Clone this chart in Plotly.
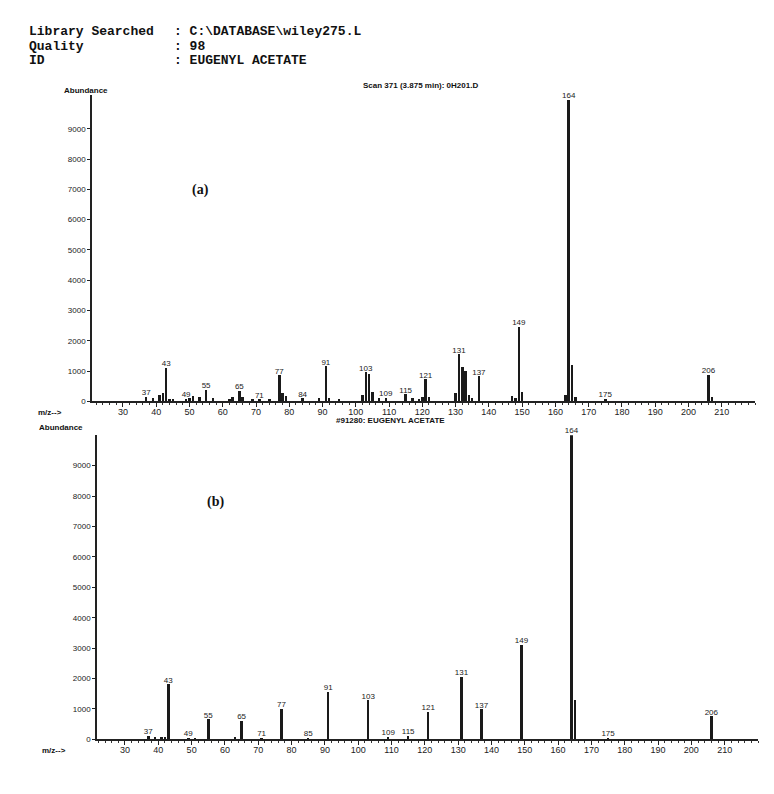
import plotly.graph_objects as go

# page body has an 8px margin; figure is sized/offset to compensate
OFF = 8
W, H = 774 - OFF, 794 - OFF

# ---------------- data ----------------
# Panel (a): sample spectrum (Scan 371)
mz_a = [37, 39, 41, 42, 43, 44, 45, 49, 50, 51, 53, 55, 57, 62, 63, 65, 66, 69, 71, 74,
        77, 78, 79, 84, 89, 91, 92, 95, 102, 103, 104, 105, 107, 109, 115, 117, 119, 120,
        121, 122, 130, 131, 132, 133, 134, 135, 137, 147, 148, 149, 150, 163, 164, 165,
        166, 175, 206, 207]
ab_a = [150, 110, 200, 250, 1100, 80, 60, 80, 100, 170, 120, 380, 100, 80, 150, 330, 150, 80, 60, 60,
        850, 250, 170, 90, 100, 1150, 100, 60, 200, 950, 900, 300, 100, 110, 220, 100, 80, 150,
        720, 150, 250, 1550, 1130, 1000, 200, 100, 820, 180, 100, 2450, 300, 200, 9950, 1200,
        150, 80, 860, 120]
lab_a = [37, 43, 49, 55, 65, 71, 77, 84, 91, 103, 109, 115, 121, 131, 137, 149, 164, 175, 206]

# Panel (b): library spectrum (#91280 EUGENYL ACETATE)
mz_b = [37, 39, 41, 42, 43, 49, 51, 55, 63, 65, 71, 77, 85, 91, 103, 109, 115, 121,
        131, 137, 149, 164, 165, 175, 206]
ab_b = [100, 60, 60, 80, 1800, 50, 50, 650, 60, 600, 40, 1000, 50, 1540, 1270, 80, 100, 900,
        2050, 980, 3100, 10000, 1300, 50, 750]
lab_b = [37, 43, 49, 55, 65, 71, 77, 85, 91, 103, 109, 115, 121, 131, 137, 149, 164, 175, 206]

y_ticks = [0, 1000, 2000, 3000, 4000, 5000, 6000, 7000, 8000, 9000]
x_ticks = list(range(30, 220, 10))

header_keys = ["Library Searched", "Quality", "ID"]
header_vals = ["C:\\DATABASE\\wiley275.L", "98", "EUGENYL ACETATE"]

# ---------------- figure ----------------
def px(x):
    return (x - OFF) / W

def py(y):
    return 1 - (y - OFF) / H

fig = go.Figure()

def add_panel(mz, ab, labs, xa, ya):
    fig.add_trace(go.Bar(x=mz, y=ab, width=0.75, marker=dict(color="#1a1a1a", line=dict(width=0)),
                         xaxis=xa, yaxis=ya, showlegend=False, hoverinfo="x+y"))
    d = dict(zip(mz, ab))
    fig.add_trace(go.Scatter(x=labs, y=[d[m] for m in labs], mode="text",
                             text=[str(m) for m in labs], textposition="top center",
                             textfont=dict(family="Liberation Sans", size=8, color="#222"),
                             cliponaxis=False,
                             xaxis=xa, yaxis=ya, showlegend=False, hoverinfo="skip"))

add_panel(mz_a, ab_a, lab_a, "x", "y")
add_panel(mz_b, ab_b, lab_b, "x2", "y2")

tickfont = dict(family="Liberation Sans", size=8, color="#222")

def xaxis_cfg(domain, rng, anchor):
    return dict(domain=domain, range=rng, anchor=anchor, showgrid=False, zeroline=False,
                showline=True, linecolor="#222", linewidth=1.5, tickmode="array",
                tickvals=x_ticks, ticks="outside", ticklen=4, tickcolor="#222",
                ticklabelstandoff=-3,
                tickfont=dict(family="Liberation Sans", size=9, color="#222"),
                minor=dict(dtick=2, tick0=0, ticks="outside", ticklen=2, tickcolor="#333"),
                fixedrange=True)

def yaxis_cfg(domain, rng, anchor):
    return dict(domain=domain, range=rng, anchor=anchor, showgrid=False, zeroline=False,
                showline=True, linecolor="#222", linewidth=1.5, tickmode="array",
                tickvals=y_ticks, ticks="outside", ticklen=3, tickcolor="#222",
                tickfont=tickfont, fixedrange=True)

fig.update_layout(
    width=W, height=H, paper_bgcolor="white", plot_bgcolor="white",
    margin=dict(l=0, r=0, t=0, b=0), bargap=0,
    xaxis=xaxis_cfg([px(92), px(755)], [20.7, 220], "y"),
    yaxis=yaxis_cfg([py(404), py(96)], [0, 10100], "x"),
    xaxis2=xaxis_cfg([px(97), px(758)], [21.6, 220], "y2"),
    yaxis2=yaxis_cfg([py(744), py(438)], [0, 10000], "x2"),
)

ann = []
mono = dict(family="Liberation Mono", size=13, color="#111")
for i, (k, v) in enumerate(zip(header_keys, header_vals)):
    yy = 32 + i * 14.5
    ann.append(dict(x=px(27), y=py(yy), xref="paper", yref="paper", xanchor="left", yanchor="middle",
                    text="<b>" + k + "</b>", showarrow=False, font=mono))
    ann.append(dict(x=px(172), y=py(yy), xref="paper", yref="paper", xanchor="left", yanchor="middle",
                    text="<b>: " + v + "</b>", showarrow=False, font=mono))

small = dict(family="Liberation Sans", size=8, color="#111")
ann += [
    dict(x=px(62), y=py(91), text="<b>Abundance</b>", xanchor="left"),
    dict(x=px(37), y=py(430), text="<b>Abundance</b>", xanchor="left"),
    dict(x=px(36), y=py(415), text="<b>m/z--></b>", xanchor="left"),
    dict(x=px(40), y=py(755), text="<b>m/z--></b>", xanchor="left"),
    dict(x=px(420), y=py(86), text="<b>Scan 371 (3.875 min): 0H201.D</b>", xanchor="center"),
    dict(x=px(390), y=py(423), text="<b>#91280: EUGENYL ACETATE</b>", xanchor="center"),
]
for a in ann[6:]:
    a.update(xref="paper", yref="paper", yanchor="middle", showarrow=False, font=small)

ann += [
    dict(x=px(190), y=py(181), xref="paper", yref="paper", text="<b>(a)</b>", showarrow=False,
         font=dict(family="Liberation Serif", size=14, color="#111")),
    dict(x=px(205), y=py(505), xref="paper", yref="paper", text="<b>(b)</b>", showarrow=False,
         font=dict(family="Liberation Serif", size=14, color="#111")),
]
fig.update_layout(annotations=ann)

fig.write_html("out.html")
